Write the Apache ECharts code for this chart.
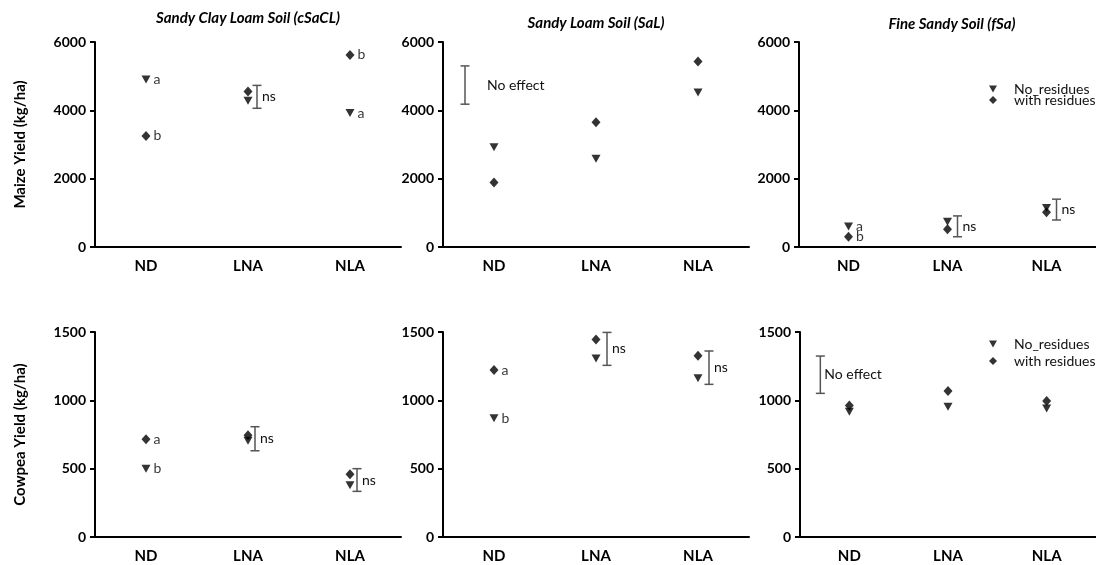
<!DOCTYPE html>
<html><head><meta charset="utf-8">
<script src="https://cdn.jsdelivr.net/npm/echarts/dist/echarts.min.js"></script>
<style>html,body{margin:0;padding:0;background:#fff}#c{width:1096px;height:565px}</style>
</head><body><div id="c"></div><script>
// ---------- data ----------
const categories = ['ND', 'LNA', 'NLA'];
const seriesNames = ['No_residues', 'with residues'];
const panelTitles = ['Sandy Clay Loam Soil (cSaCL)', 'Sandy Loam Soil (SaL)', 'Fine Sandy Soil (fSa)'];
const rowNames = ['Maize Yield (kg/ha)', 'Cowpea Yield (kg/ha)'];
const maizeTicks = [0, 2000, 4000, 6000];
const cowpeaTicks = [0, 500, 1000, 1500];

// Maize, Sandy Clay Loam
const maizeCSaCLNoRes = [4900, 4280, 3920];
const maizeCSaCLWithRes = [3250, 4550, 5620];
const maizeCSaCLNoResLetters = ['a', '', 'a'];
const maizeCSaCLWithResLetters = ['b', '', 'b'];
const maizeCSaCLErr = [[1, 4060, 4730]];
const maizeCSaCLErrLabels = ['ns'];

// Maize, Sandy Loam
const maizeSaLNoRes = [2920, 2580, 4520];
const maizeSaLWithRes = [1890, 3650, 5430];
const maizeSaLNoEffect = [[0, 4180, 5300]];

// Maize, Fine Sandy
const maizeFSaNoRes = [600, 740, 1140];
const maizeFSaWithRes = [300, 520, 1020];
const maizeFSaNoResLetters = ['a', '', ''];
const maizeFSaWithResLetters = ['b', '', ''];
const maizeFSaErr = [[1, 300, 910], [2, 790, 1400]];
const maizeFSaErrLabels = ['ns', 'ns'];

// Cowpea, Sandy Clay Loam
const cowCSaCLNoRes = [500, 705, 378];
const cowCSaCLWithRes = [715, 745, 459];
const cowCSaCLNoResLetters = ['b', '', ''];
const cowCSaCLWithResLetters = ['a', '', ''];
const cowCSaCLErr = [[1, 631, 807], [2, 334, 500]];
const cowCSaCLErrLabels = ['ns', 'ns'];

// Cowpea, Sandy Loam
const cowSaLNoRes = [868, 1307, 1161];
const cowSaLWithRes = [1222, 1446, 1326];
const cowSaLNoResLetters = ['b', '', ''];
const cowSaLWithResLetters = ['a', '', ''];
const cowSaLErr = [[1, 1256, 1497], [2, 1117, 1361]];
const cowSaLErrLabels = ['ns', 'ns'];

// Cowpea, Fine Sandy
const cowFSaNoRes = [917, 953, 941];
const cowFSaWithRes = [963, 1068, 995];
const cowFSaNoEffect = [[0, 1051, 1324]];

const noEffectLabel = ['No effect'];

// ---------- layout / style ----------
const FONT = 'Lato';
const INK = '#000';
const BAR = '#555';
const triPath = 'path://M0,0L10,0L5,9Z';

const panels = [
  {left: 95,  top: 42,  ticks: maizeTicks, name: rowNames[0], noRes: maizeCSaCLNoRes, withRes: maizeCSaCLWithRes,
   noL: maizeCSaCLNoResLetters, withL: maizeCSaCLWithResLetters, err: maizeCSaCLErr, errL: maizeCSaCLErrLabels, errOff: 9},
  {left: 443, top: 42,  ticks: maizeTicks, noRes: maizeSaLNoRes, withRes: maizeSaLWithRes,
   noEff: maizeSaLNoEffect, noEffGap: 22},
  {left: 799, top: 42,  ticks: maizeTicks, noRes: maizeFSaNoRes, withRes: maizeFSaWithRes,
   noL: maizeFSaNoResLetters, withL: maizeFSaWithResLetters, err: maizeFSaErr, errL: maizeFSaErrLabels, errOff: 10},
  {left: 95,  top: 332, ticks: cowpeaTicks, name: rowNames[1], noRes: cowCSaCLNoRes, withRes: cowCSaCLWithRes,
   noL: cowCSaCLNoResLetters, withL: cowCSaCLWithResLetters, err: cowCSaCLErr, errL: cowCSaCLErrLabels, errOff: 7},
  {left: 443, top: 332, ticks: cowpeaTicks, noRes: cowSaLNoRes, withRes: cowSaLWithRes,
   noL: cowSaLNoResLetters, withL: cowSaLWithResLetters, err: cowSaLErr, errL: cowSaLErrLabels, errOff: 11},
  {left: 800, top: 332, ticks: cowpeaTicks, noRes: cowFSaNoRes, withRes: cowFSaWithRes,
   noEff: cowFSaNoEffect, noEffGap: 4}
];

function barRender(offset, gap, labels) {
  return function (params, api) {
    const x = api.value(0);
    const lo = api.coord([x, api.value(1)]);
    const hi = api.coord([x, api.value(2)]);
    const px = lo[0] + offset;
    const st = {stroke: BAR, lineWidth: 1.5};
    const cap = 4.5;
    return {
      type: 'group',
      children: [
        {type: 'line', shape: {x1: px, y1: hi[1], x2: px, y2: lo[1]}, style: st},
        {type: 'line', shape: {x1: px - cap, y1: hi[1], x2: px + cap, y2: hi[1]}, style: st},
        {type: 'line', shape: {x1: px - cap, y1: lo[1], x2: px + cap, y2: lo[1]}, style: st},
        {type: 'text', style: {text: labels[params.dataIndex], x: px + gap, y: (hi[1] + lo[1]) / 2,
          align: 'left', verticalAlign: 'middle', fontSize: 14, fontFamily: FONT, fill: '#111'}}
      ]
    };
  };
}

const grid = [], xAxis = [], yAxis = [], series = [];
panels.forEach((p, i) => {
  grid.push({left: p.left, top: p.top, width: 306, height: 205});
  xAxis.push({
    type: 'category', gridIndex: i, data: categories,
    axisLine: {lineStyle: {color: INK, width: 2}},
    axisTick: {alignWithLabel: true, length: 5, lineStyle: {color: INK, width: 2}},
    axisLabel: {fontSize: 15, fontWeight: 'bold', color: INK, fontFamily: FONT, margin: 12},
    splitLine: {show: false}
  });
  const t = p.ticks;
  yAxis.push({
    type: 'value', gridIndex: i, min: t[0], max: t[t.length - 1], interval: t[1] - t[0],
    axisLine: {show: true, lineStyle: {color: INK, width: 2}},
    axisTick: {show: true, length: 5, lineStyle: {color: INK, width: 2}},
    axisLabel: {fontSize: 14, fontWeight: 'bold', color: INK, fontFamily: FONT, margin: 9,
      formatter: (v) => String(v)},
    splitLine: {show: false},
    name: p.name || '', nameLocation: 'middle', nameGap: 67,
    nameTextStyle: {fontSize: 15, fontWeight: 'bold', color: INK, fontFamily: FONT}
  });
  const lab = (letters) => ({
    show: !!letters, position: 'right', distance: 3, color: INK, fontSize: 14, fontFamily: FONT,
    formatter: (q) => letters ? letters[q.dataIndex] : ''
  });
  series.push({
    type: 'scatter', name: seriesNames[0], xAxisIndex: i, yAxisIndex: i,
    symbol: triPath, symbolSize: [9, 8], itemStyle: {color: '#000'},
    data: p.noRes.map((v, j) => [j, v]), label: lab(p.noL), z: 3
  });
  series.push({
    type: 'scatter', name: seriesNames[1], xAxisIndex: i, yAxisIndex: i,
    symbol: 'diamond', symbolSize: [9, 10], itemStyle: {color: '#000'},
    data: p.withRes.map((v, j) => [j, v]), label: lab(p.withL), z: 3
  });
  if (p.err) {
    series.push({
      type: 'custom', xAxisIndex: i, yAxisIndex: i, clip: false, silent: true,
      encode: {x: 0, y: [1, 2]}, data: p.err, renderItem: barRender(p.errOff, 5, p.errL)
    });
  }
  if (p.noEff) {
    series.push({
      type: 'custom', xAxisIndex: i, yAxisIndex: i, clip: false, silent: true,
      encode: {x: 0, y: [1, 2]}, data: p.noEff, renderItem: barRender(-29, p.noEffGap, noEffectLabel)
    });
  }
});

const legendBase = {
  orient: 'vertical', left: 989, itemWidth: 8, itemHeight: 8, padding: 0, selectedMode: false,
  textStyle: {fontSize: 14, fontFamily: FONT, color: '#111', lineHeight: 11, padding: [0, 0, 0, 12]},
  data: [{name: seriesNames[0], icon: triPath}, {name: seriesNames[1], icon: 'diamond'}]
};

const titleY = [18, 23, 24];
const titleX = [248, 596, 952];

const option = {
  animation: false,
  backgroundColor: '#fff',
  grid, xAxis, yAxis, series,
  legend: [
    Object.assign({}, legendBase, {top: 82, itemGap: -3}),
    Object.assign({}, legendBase, {top: 337, itemGap: 3})
  ],
  graphic: panelTitles.map((txt, k) => ({
    type: 'text', x: titleX[k], y: titleY[k],
    style: {text: txt, align: 'center', verticalAlign: 'middle', fill: INK,
      font: 'italic bold 15px ' + FONT}
  }))
};

const chart = echarts.init(document.getElementById('c'), null, {renderer: 'canvas'});
chart.setOption(option);
</script></body></html>
